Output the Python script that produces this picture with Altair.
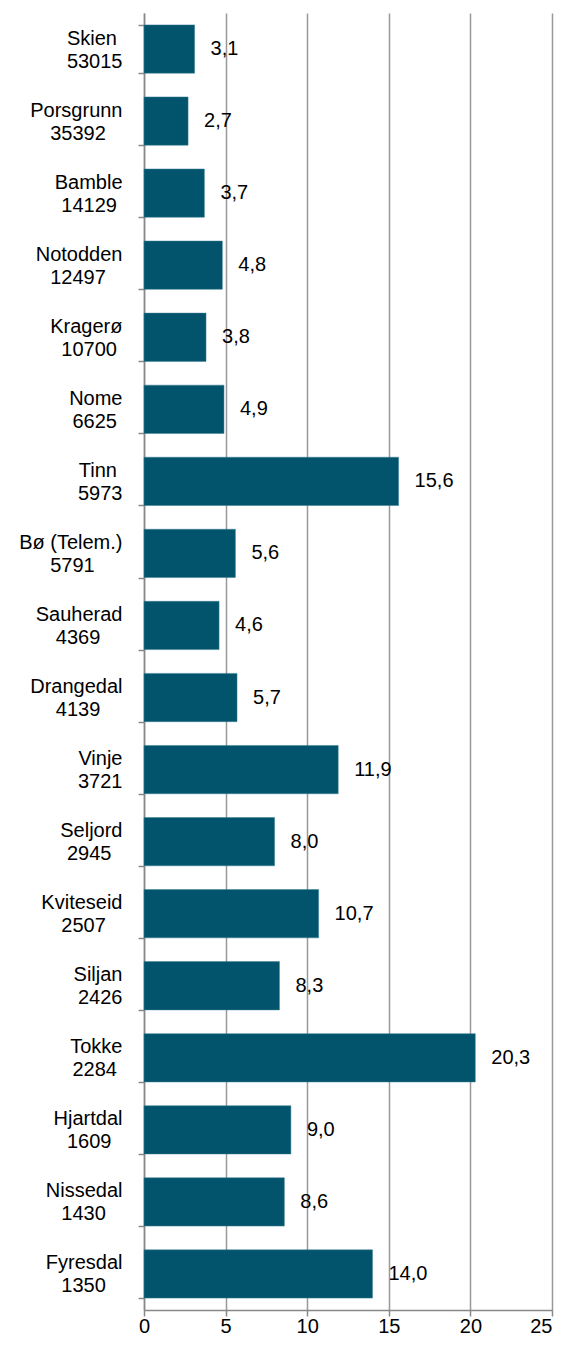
import altair as alt
import pandas as pd

names = ["Skien", "Porsgrunn", "Bamble", "Notodden", "Kragerø", "Nome", "Tinn",
         "Bø (Telem.)", "Sauherad", "Drangedal", "Vinje", "Seljord", "Kviteseid",
         "Siljan", "Tokke", "Hjartdal", "Nissedal", "Fyresdal"]
population = ["53015", "35392", "14129", "12497", "10700", "6625", "5973", "5791",
              "4369", "4139", "3721", "2945", "2507", "2426", "2284", "1609", "1430", "1350"]
values = [3.1, 2.7, 3.7, 4.8, 3.8, 4.9, 15.6, 5.6, 4.6, 5.7, 11.9, 8.0, 10.7,
          8.3, 20.3, 9.0, 8.6, 14.0]
x_ticks = [0, 5, 10, 15, 20, 25]

# Approximate Arial/Liberation Sans advance widths (per 1000 em) used to
# centre the two label lines on each other (the reference centres them).
W = {"0": 556, "1": 556, "2": 556, "3": 556, "4": 556, "5": 556, "6": 556, "7": 556,
     "8": 556, "9": 556, " ": 278, "(": 333, ")": 333, ".": 278,
     "B": 667, "S": 667, "P": 667, "N": 722, "K": 667, "T": 611, "D": 722, "V": 667,
     "H": 722, "F": 611,
     "a": 556, "b": 556, "c": 500, "d": 556, "e": 556, "f": 278, "g": 556, "h": 556,
     "i": 222, "j": 222, "k": 500, "l": 222, "m": 833, "n": 556, "o": 556, "p": 556,
     "r": 333, "s": 500, "t": 278, "u": 556, "v": 500, "ø": 611}
NBSP = "\u00a0"
ZWSP = "\u200b"  # keeps trailing no-break spaces from being trimmed


def tw(s):
    return sum(W.get(c, 556) for c in s)


def centred(a, b):
    d = tw(a) - tw(b)
    k = int(round(abs(d) / 2 / 278))
    pad = (NBSP * k + ZWSP) if k else ""
    if d > 0:
        b = b + pad
    else:
        a = a + pad
    return f"{a}|{b}"


df = pd.DataFrame({
    "cat": [centred(n, p) for n, p in zip(names, population)],
    "v": values,
})
order = list(df["cat"])

FONT = "Liberation Sans"

y_enc = alt.Y("cat:N", sort=order, title=None,
              scale=alt.Scale(paddingInner=0.33, paddingOuter=0.165),
              axis=alt.Axis(labelExpr="split(datum.label, '|')", labelFont=FONT,
                            labelFontSize=20, labelLineHeight=23, labelColor="#000",
                            labelPadding=16, labelOffset=-11, tickBand="extent",
                            tickSize=6, tickColor="#888", domainColor="#888",
                            tickWidth=1.5, domainWidth=1.5, labelAlign="right",
                            labelBaseline="middle"))
x_enc = alt.X("v:Q", title=None,
              scale=alt.Scale(domain=[0, 25], nice=False),
              axis=alt.Axis(values=x_ticks, grid=True, gridColor="#999", gridWidth=1.5,
                            labelFont=FONT, labelFontSize=20, labelColor="#000",
                            tickSize=6, tickColor="#888", domainColor="#888",
                            tickWidth=1.5, domainWidth=1.5, labelPadding=16,
                            labelBaseline="alphabetic", labelFlush=False,
                            labelAlign={"condition": {"test": "datum.value == 25",
                                                      "value": "right"},
                                        "value": "center"}))

bars = alt.Chart(df).mark_bar(color="#02546D", stroke="#3a7f94", strokeWidth=0.5).encode(
    x=x_enc, y=y_enc)

text = alt.Chart(df).transform_calculate(
    lbl="replace(format(datum.v, '.1f'), '.', ',')"
).mark_text(align="left", baseline="middle", dx=16, font=FONT, fontSize=20,
            color="#000").encode(
    x=alt.X("v:Q"), y=alt.Y("cat:N", sort=order), text="lbl:N")

chart = alt.layer(bars, text).properties(
    width=408, height=1297,
    autosize=alt.AutoSizeParams(type="none"),
    padding={"left": 136, "top": 5, "right": 4, "bottom": 27},
).configure_view(stroke=None).configure_axisY(grid=False)

chart.save("out.html", embed_options={"renderer": "svg", "actions": False})
